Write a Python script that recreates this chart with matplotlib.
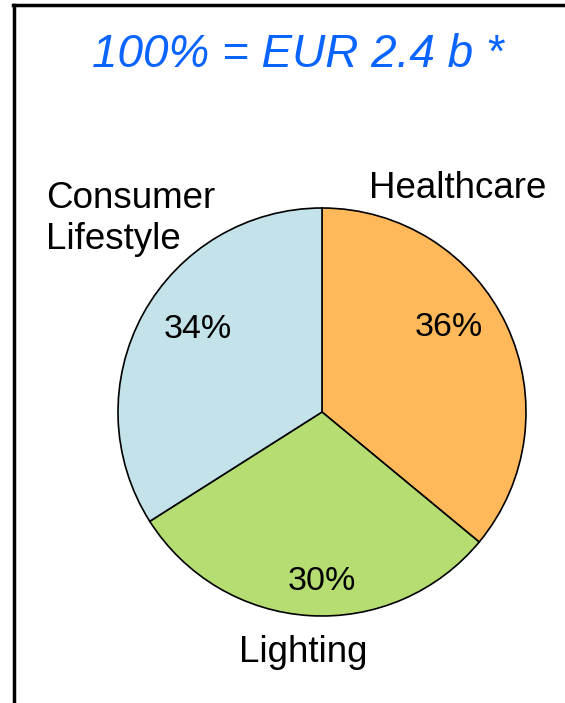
import matplotlib
matplotlib.use("Agg")
import matplotlib.pyplot as plt
from matplotlib.lines import Line2D

plt.rcParams['font.family'] = ['Liberation Sans', 'DejaVu Sans']

# sector shares, clockwise from 12 o'clock
segments = ["Healthcare", "Lighting", "Consumer Lifestyle"]
shares = [36, 30, 34]
colors = ["#FFB95A", "#B6DD71", "#C3E2EA"]
title = "100% = EUR 2.4 b *"

W, H = 565, 703
fig = plt.figure(figsize=(W / 100, H / 100), dpi=100)
ax = fig.add_axes([0, 0, 1, 1])

cx, cy, r = 322, H - 412, 204
ax.pie(shares, colors=colors, startangle=90, counterclock=False,
       center=(cx, cy), radius=r, frame=True,
       wedgeprops=dict(edgecolor="black", linewidth=1.2))
ax.set_xlim(0, W)
ax.set_ylim(0, H)
ax.set_aspect("equal")
ax.axis("off")

# percentage labels inside the wedges
pct_pos = [(449, 328), (322, 582), (198, 329)]
for v, (x, y) in zip(shares, pct_pos):
    ax.text(x, H - y, f"{v}%", ha="center", va="center", fontsize=24.5)

# segment names outside
ax.text(369, H - 188, "Healthcare", ha="left", va="center", fontsize=26.5)
ax.text(303, H - 653, "Lighting", ha="center", va="center", fontsize=26.5)
ax.text(46, H - 219, "Consumer\nLifestyle", ha="left", va="center",
        fontsize=26.5, linespacing=1.2)

ax.text(298, H - 55, title, ha="center", va="center", fontsize=33,
        style="italic", color="#0A64FF")

# frame: left and top edges
fig.add_artist(Line2D([13.5 / W, 13.5 / W], [0, 1 - 5 / H], color="black",
                      linewidth=2.5, transform=fig.transFigure))
fig.add_artist(Line2D([12.5 / W, 1], [1 - 5 / H, 1 - 5 / H], color="black",
                      linewidth=2.5, transform=fig.transFigure))

fig.savefig("out.png", dpi=100, facecolor="white")
